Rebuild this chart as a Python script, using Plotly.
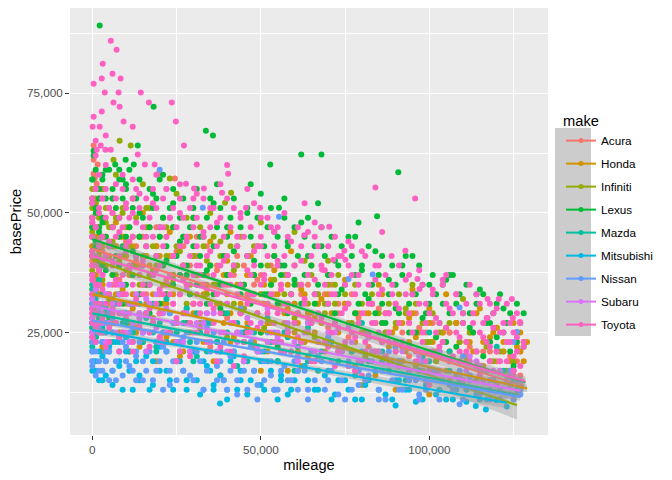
import numpy as np
import plotly.graph_objects as go

makes = ["Acura", "Honda", "Infiniti", "Lexus", "Mazda", "Mitsubishi", "Nissan", "Subaru", "Toyota"]
colors = ["#F8766D", "#D39200", "#93AA00", "#00BA38", "#00C19F", "#00B9E3", "#619CFF", "#DB72FB", "#FF61C3"]

# ---- scattered points (mileage and basePrice, in thousands) ----
acura_mileage_k = [0.4, 0.4, 1.6, 0.4, 0.7, 24.5, 19.7, 1.3,
                   0, 0, 0, 1, 1, 2, 2, 3, 4, 6, 8, 10,
                   13, 16, 19, 22, 25, 28, 31, 34, 37, 40, 43, 46, 49, 52, 55, 58, 20, 35, 50,
                   61, 64, 67, 70, 73, 76, 79, 82, 85, 88, 91, 94, 97, 100, 103, 106, 109, 112, 115, 118, 121, 124, 127]
acura_price_k = [64.1, 61.1, 60.1, 58.2, 57.2, 57.2, 58.2, 56.1,
                 28, 40, 48, 34, 52, 38, 45, 42, 31, 50, 36, 44,
                 40, 33, 47, 36, 42, 30, 45, 34, 38, 28, 41, 32, 36, 27, 39, 31, 24, 22, 21,
                 35, 29, 33, 26, 31, 24, 28, 22, 30, 25, 27, 20, 26, 23, 21, 25, 19, 22, 18, 21, 17, 20, 16]

honda_mileage_k = [0, 0, 0, 0, 0, 0, 0, 0, 1, 1, 1, 1, 1, 1, 2, 2, 2, 2, 3, 3, 3,
                   4, 6, 8, 10, 12, 14, 16, 18, 20, 22, 24, 26, 28, 30, 5, 9, 13, 17, 21, 25, 29, 7, 15, 23,
                   32, 34, 36, 38, 40, 42, 44, 46, 48, 50, 52, 54, 56, 58, 60, 62, 64, 66, 68, 70, 35, 41, 47, 53, 59, 65, 38, 50, 62,
                   72, 74, 76, 78, 80, 82, 84, 86, 88, 90, 92, 94, 96, 98, 100, 102, 104, 106, 108, 110, 112, 114, 116, 118, 120,
                   122, 124, 126, 128, 75, 85, 95, 105, 115, 125, 80, 90, 100, 110, 120, 127, 129]
honda_price_k = [23, 25, 28, 31, 34, 37, 43, 49, 24, 27, 30, 36, 40, 47, 26, 29, 33, 39, 22, 35, 45,
                 27, 32, 25, 38, 30, 22, 35, 28, 41, 24, 33, 20, 37, 29, 43, 34, 26, 39, 31, 23, 45, 48, 50, 46,
                 26, 35, 19, 31, 40, 24, 29, 37, 22, 33, 27, 38, 21, 30, 25, 34, 20, 28, 32, 23, 44, 46, 41, 36, 42, 39, 16, 17, 18,
                 27, 21, 31, 18, 25, 29, 16, 33, 22, 26, 19, 28, 24, 17, 30, 21, 25, 15, 27, 20, 23, 29, 18, 24, 26,
                 21, 16, 22, 19, 36, 35, 34, 33, 30, 27, 14, 13, 12, 14, 26, 25, 23]

infiniti_mileage_k = [8.1, 11.4, 6.3, 23, 41.2, 39.4,
                      0, 0, 0, 1, 1, 2, 2, 3, 3, 4, 5, 6, 7, 8, 9, 10,
                      12, 14, 16, 18, 20, 22, 24, 26, 28, 30, 32, 34, 36, 38, 40, 15, 25, 35,
                      42, 45, 48, 51, 54, 57, 60, 63, 66, 69, 72, 75, 78, 81, 84, 50, 60, 70,
                      87, 90, 93, 96, 99, 102, 105, 108, 111, 114, 117, 120, 123, 126, 95, 110]
infiniti_price_k = [65.1, 64.1, 61.1, 57.2, 54.2, 52.1,
                    30, 38, 46, 34, 52, 28, 42, 36, 55, 48, 32, 44, 58, 40, 50, 27,
                    45, 33, 51, 38, 29, 47, 36, 42, 31, 49, 27, 40, 35, 44, 24, 56, 54, 50,
                    38, 30, 43, 26, 36, 33, 28, 40, 24, 31, 35, 22, 29, 20, 27, 48, 46, 40,
                    25, 21, 30, 18, 23, 19, 26, 16, 20, 15, 22, 14, 17, 12, 35, 32]

lexus_mileage_k = [2.2, 18.2, 33.7, 35.8, 62, 68, 52.8, 13.5, 0.4, 0.4, 9.9, 6.8, 12.3, 8, 4, 55.4, 84.5, 90.8,
                   0, 0, 0, 0, 0, 0, 0, 1, 1, 1, 1, 1, 2, 2, 2, 2, 3, 3, 3,
                   4, 6, 8, 10, 12, 14, 16, 18, 20, 22, 24, 26, 28, 30, 5, 11, 17, 23, 29, 9, 21,
                   32, 34, 36, 38, 40, 42, 44, 46, 48, 50, 52, 54, 56, 58, 60, 62, 64, 66, 68, 70, 37, 47, 57, 67, 45, 55, 65,
                   72, 74, 76, 78, 80, 82, 84, 86, 88, 90, 92, 94, 96, 98, 100, 102, 104, 106, 108, 110, 112, 114, 116, 118,
                   120, 122, 124, 126, 128, 79, 95, 105, 115, 125]
lexus_price_k = [89.2, 72.2, 67.2, 66.2, 62.2, 62.2, 60.1, 64.1, 63, 62, 61.1, 60.1, 60.1, 59, 59, 51.1, 49.3, 58.5,
                 26, 32, 37, 42, 47, 52, 57, 24, 35, 44, 50, 55, 29, 40, 46, 53, 33, 48, 58,
                 38, 53, 45, 56, 42, 50, 35, 54, 47, 40, 52, 44, 37, 49, 28, 31, 29, 25, 33, 57, 58,
                 45, 38, 52, 30, 47, 42, 35, 50, 40, 54, 33, 46, 39, 44, 36, 48, 41, 31, 43, 37, 56, 56, 53, 52, 25, 22, 27,
                 40, 34, 45, 29, 38, 32, 42, 27, 36, 30, 39, 25, 33, 28, 35, 24, 31, 37, 22, 29, 26, 33, 20, 27,
                 24, 30, 21, 25, 22, 48, 41, 36, 34, 18]

mazda_mileage_k = [0, 0, 0, 0, 1, 1, 2, 2, 3, 4, 6, 8, 10, 12, 14,
                   16, 19, 22, 25, 28, 31, 34, 37, 40, 43, 46, 49, 52, 55, 58, 61, 64, 67, 70,
                   74, 78, 82, 86, 90, 94, 98, 102, 106, 110, 114, 118, 122, 126, 80, 100, 120]
mazda_price_k = [22, 26, 30, 34, 24, 32, 28, 36, 26, 30, 23, 33, 27, 25, 31,
                 28, 22, 32, 25, 30, 20, 27, 23, 29, 18, 26, 21, 28, 19, 24, 22, 26, 17, 23,
                 21, 16, 24, 19, 22, 15, 20, 17, 21, 14, 18, 15, 17, 13, 27, 25, 22]

mitsubishi_mileage_k = [0, 0, 0, 1, 1, 2, 2, 3, 4, 5, 6, 8, 10, 12,
                        14, 16, 18, 20, 22, 24, 26, 28, 30, 32, 34, 36, 37.9, 38, 40, 42, 44, 46, 48, 50, 52, 54, 56, 58, 60,
                        63, 66, 69, 72, 75, 78, 81, 84, 87, 90, 93, 96, 99, 102, 105, 108, 111, 114, 117, 120, 123,
                        116.8, 113.8, 90]
mitsubishi_price_k = [17, 21, 25, 19, 23, 15, 27, 20, 16, 22, 14, 18, 24, 13,
                      16, 20, 14, 22, 17, 13, 19, 15, 21, 12, 18, 14, 10.15, 16, 13, 20, 15, 12, 17, 14, 19, 13, 16, 12, 15,
                      18, 13, 16, 12, 15, 11, 14, 17, 12, 15, 13, 10.5, 14, 12, 11, 13, 10.5, 12, 11, 10.8, 9.5,
                      8.9, 9.6, 9.7]

nissan_mileage_k = [0, 0, 0, 0, 0, 1, 1, 1, 2, 2, 3, 3, 4, 5, 6, 7, 8, 9, 10, 11, 12,
                    13, 15, 17, 19, 21, 23, 25, 27, 29, 31, 33, 35, 37, 39, 41, 43, 45, 47, 49, 51, 53, 55, 57, 59,
                    14, 24, 34, 44, 54,
                    61, 64, 67, 70, 73, 76, 79, 82, 85, 88, 91, 94, 97, 100, 103, 106, 109, 112, 115, 118, 121, 124, 127,
                    70, 90, 110, 125, 20, 55.4, 32.8, 83.2, 76, 109, 126]
nissan_price_k = [18, 21, 24, 27, 30, 16, 23, 29, 19, 26, 17, 25, 21, 15, 28, 19, 24, 16, 22, 18, 26,
                  20, 15, 25, 17, 22, 14, 19, 24, 16, 21, 13, 23, 18, 15, 20, 12, 17, 22, 14, 19, 16, 13, 18, 15,
                  28, 27, 26, 30, 25,
                  17, 13, 20, 15, 12, 18, 14, 16, 11, 19, 13, 15, 12, 17, 11, 14, 10, 16, 12, 13, 11, 14, 12,
                  24, 22, 20, 23, 59, 49.2, 51.1, 37.1, 36.2, 30.2, 25.1]

subaru_mileage_k = [0, 0, 0, 0, 1, 1, 2, 2, 3, 4, 6, 8, 10, 12, 14,
                    16, 19, 22, 25, 28, 31, 34, 37, 40, 43, 46, 49, 52, 55, 58, 61, 64, 67, 70,
                    73, 76, 79, 82, 85, 88, 91, 94, 97, 100, 103, 106, 109, 112, 115, 118, 121, 124, 127]
subaru_price_k = [24, 28, 32, 36, 26, 34, 30, 38, 27, 33, 29, 35, 25, 31, 28,
                  32, 26, 30, 23, 34, 27, 29, 21, 31, 25, 28, 22, 30, 24, 26, 20, 27, 23, 25,
                  22, 26, 19, 24, 21, 23, 18, 22, 20, 17, 21, 19, 16, 20, 18, 15, 17, 16, 14]

toyota_mileage_k = [0, 0, 0, 0, 0, 0, 0, 0, 0, 0, 1, 1, 1, 1, 1, 1, 1, 1, 2, 2, 2, 2, 2, 2, 3, 3, 3, 3,
                    5.5, 7.2, 3.1, 6.0, 2.8, 8.4, 0.4, 3.7, 7.8, 14.4, 6.3, 8.1, 16.8, 23.6, 2.8, 0.4, 9.3, 0.1, 2.2,
                    12.0, 24.8, 4.0, 1.0, 27.2, 2.5, 1.3, 3.9, 5.5, 13.5, 31.0, 15.6, 18.5, 40.3, 27.8, 30.2, 33.1,
                    45.6, 49.8, 38.5,
                    4, 5, 5, 6, 6, 7, 7, 8, 8, 9, 9, 10, 10, 11, 11, 12, 12, 13, 13, 14, 14, 15, 15, 4, 6, 8, 10, 12, 14,
                    16, 17, 18, 19, 20, 21, 22, 23, 24, 25, 26, 27, 28, 29, 30, 31, 32, 33, 34, 35, 17, 20, 23, 26, 29,
                    32, 35, 19, 25, 31,
                    36, 37, 38, 39, 40, 41, 42, 43, 44, 45, 46, 47, 48, 49, 50, 51, 52, 53, 54, 55, 56, 57, 58, 59, 60,
                    38, 42, 46, 50, 54, 58, 40, 48, 56,
                    61, 62, 63, 64, 65, 66, 67, 68, 69, 70, 71, 72, 73, 74, 75, 76, 77, 78, 79, 80, 81, 82, 83, 84, 85,
                    86, 87, 88, 89, 90, 63, 66, 70.3, 62.9, 86, 74.8, 71.5, 75.1, 68.2, 88.8, 92.9, 84, 95.8,
                    64, 72, 80, 68, 76, 84,
                    91, 92, 93, 94, 95, 96, 97, 98, 99, 100, 101, 102, 103, 104, 105, 106, 107, 108, 109, 110, 111,
                    112, 113, 114, 115, 116, 117, 118, 119, 120, 121, 122, 123, 124, 125, 126, 127, 128,
                    96.5, 97.1, 117.3, 120.6, 124.5, 124.8, 126.9, 117.3, 100, 105, 110, 115, 120, 125]
toyota_price_k = [24, 27, 30, 33, 36, 39, 42, 45, 48, 52, 23, 26, 29, 35, 41, 47, 55, 62, 25, 31, 38, 44, 50, 58, 28, 34, 40, 53,
                  86, 84.1, 81.2, 79.1, 78.1, 78.1, 77.0, 75.2, 75.2, 75.2, 73.1, 72.2, 73.1, 73.1, 71.2, 70.1, 69.1, 68.0, 68.0,
                  68.0, 69.1, 66.2, 65.1, 64.1, 64.1, 63.2, 63.2, 63.2, 62.2, 60.1, 60.1, 60.1, 58.2, 56.1, 55.1, 55.1,
                  51.1, 51.1, 54.2,
                  22, 26, 44, 30, 50, 36, 56, 24, 46, 33, 58, 28, 52, 38, 44, 21, 57, 32, 48, 26, 54, 40, 35, 60, 40, 29, 42, 50, 37,
                  45, 30, 52, 38, 24, 47, 55, 33, 41, 28, 50, 36, 44, 20, 53, 39, 31, 46, 25, 42, 22, 34, 49, 56, 27,
                  37, 51, 58, 19, 54,
                  30, 48, 22, 40, 53, 35, 27, 45, 50, 20, 38, 33, 52, 26, 43, 36, 29, 47, 23, 40, 34, 50, 31, 44, 27,
                  56, 18, 55, 49, 46, 37, 60, 42, 21,
                  24, 40, 32, 46, 19, 36, 43, 28, 38, 22, 33, 45, 26, 41, 30, 18, 37, 24, 35, 42, 21, 31, 27, 39, 25,
                  34, 20, 29, 33, 23, 52, 48, 47.1, 45.3, 46, 42.1, 40.2, 40.2, 38.1, 41, 42.1, 55.3, 53,
                  28, 18, 16, 47, 44, 36,
                  30, 22, 36, 27, 33, 19, 38, 25, 31, 17, 34, 28, 22, 36, 26, 30, 20, 33, 24, 29, 21,
                  35, 27, 18, 31, 24, 28, 22, 26, 30, 19, 25, 23, 27, 20, 24, 18, 22,
                  36.2, 34.1, 32, 32, 32, 28, 27.2, 28, 14, 37, 15, 16, 14, 16]

# ---- dense core: price rows (thousands) and the mileages (thousands) seen on each row ----
acura_row_price_k = [53, 51, 49, 47, 45, 43, 41, 39, 37, 35, 33, 31, 29, 27, 25, 23, 21, 19]
acura_row_mileage_k = [
    [0, 2], [1, 5], [0, 3, 8], [2, 6, 11, 17], [0, 4, 9, 15, 22], [1, 7, 13, 19, 27, 34],
    [0, 5, 10, 16, 24, 31, 39], [3, 8, 14, 21, 29, 37, 45, 53], [1, 12, 18, 26, 34, 42, 50, 58],
    [6, 23, 32, 40, 48, 56, 64, 71], [20, 36, 46, 54, 62, 69, 77], [30, 51, 60, 67, 75, 83, 90],
    [44, 65, 73, 81, 88, 96], [57, 79, 86, 94, 101, 108], [92, 99, 106, 113], [104, 111, 118],
    [116, 122, 127], [120, 126]]

honda_row_price_k = [47, 45, 43, 41, 39, 37, 35, 33, 31, 29, 27, 25, 23, 21, 19, 17]
honda_row_mileage_k = [
    [0, 2, 6], [1, 4, 9, 14], [0, 3, 7, 12, 19], [2, 5, 10, 16, 23, 30], [0, 4, 8, 13, 20, 27, 35],
    [1, 6, 11, 17, 24, 31, 39, 46], [0, 3, 9, 15, 21, 28, 36, 43, 51, 58],
    [2, 7, 12, 18, 26, 33, 40, 48, 55, 63, 70], [0, 5, 10, 16, 22, 30, 37, 44, 52, 60, 67, 75, 83],
    [1, 4, 9, 14, 20, 27, 34, 41, 49, 57, 64, 71, 79, 87, 95],
    [0, 6, 11, 18, 25, 32, 39, 46, 53, 61, 68, 76, 84, 92, 100, 108],
    [2, 8, 13, 21, 29, 36, 43, 50, 58, 66, 73, 81, 89, 97, 104, 112, 119, 126],
    [0, 5, 15, 24, 33, 41, 48, 56, 63, 70, 78, 86, 94, 101, 109, 116, 122, 128],
    [3, 11, 27, 38, 52, 61, 69, 77, 85, 93, 99, 106, 113, 120, 127],
    [19, 45, 66, 82, 91, 102, 111, 118, 124], [58, 88, 105, 117, 125]]

infiniti_row_price_k = [55, 53, 51, 49, 47, 45, 43, 41, 39, 37, 35, 33, 31, 29, 27, 25, 23, 21, 19]
infiniti_row_mileage_k = [
    [0, 3], [1, 6, 12], [0, 4, 9, 17], [2, 7, 13, 21, 28], [0, 5, 10, 16, 24, 32],
    [3, 8, 14, 20, 27, 36, 44], [1, 6, 11, 18, 25, 33, 41, 49], [0, 4, 9, 15, 22, 30, 38, 46, 54],
    [2, 12, 19, 27, 35, 43, 52, 60], [7, 17, 24, 31, 40, 48, 57, 65, 73], [14, 29, 37, 45, 53, 62, 70, 78],
    [22, 34, 50, 59, 67, 75, 83, 91], [42, 56, 64, 72, 80, 88, 96], [61, 69, 85, 93, 101],
    [77, 90, 98, 106], [87, 103, 112], [100, 109, 117], [114, 121], [119, 125]]

lexus_row_price_k = [59, 57, 55, 53, 51, 49, 47, 45, 43, 41, 39, 37, 35, 33, 31, 29, 27, 25, 23]
lexus_row_mileage_k = [
    [1, 5, 11], [0, 3, 8, 14, 20], [2, 6, 10, 17, 24, 31], [0, 4, 9, 13, 19, 27, 35, 42],
    [1, 7, 12, 18, 23, 30, 38, 46, 53], [0, 3, 8, 15, 21, 26, 34, 41, 49, 57, 64],
    [2, 6, 11, 17, 24, 29, 37, 44, 52, 60, 68], [0, 4, 10, 14, 20, 27, 33, 40, 47, 55, 63, 71, 78],
    [1, 5, 9, 16, 22, 30, 36, 43, 51, 58, 66, 74, 82], [0, 7, 13, 19, 25, 32, 39, 46, 54, 61, 69, 77, 86, 93],
    [3, 8, 15, 21, 28, 35, 42, 50, 57, 65, 73, 80, 89, 97],
    [0, 6, 12, 18, 26, 33, 40, 48, 56, 63, 70, 78, 85, 92, 101, 107],
    [2, 10, 17, 24, 31, 38, 45, 53, 60, 67, 75, 83, 90, 98, 104, 111],
    [5, 14, 22, 29, 36, 44, 51, 59, 66, 73, 81, 88, 95, 102, 109, 116, 121],
    [1, 9, 20, 34, 47, 55, 62, 70, 79, 86, 94, 100, 108, 114, 120, 126],
    [4, 16, 39, 58, 72, 84, 91, 99, 106, 112, 119, 124, 128],
    [28, 64, 87, 103, 110, 117, 123, 127], [50, 96, 113, 122], [105, 118, 126]]

mazda_row_price_k = [35, 33, 31, 29, 27, 25, 23, 21, 19, 17, 15]
mazda_row_mileage_k = [
    [0, 2], [1, 4, 8], [0, 3, 7, 12, 18], [2, 5, 10, 16, 23, 31], [0, 4, 9, 14, 20, 27, 35, 43],
    [1, 6, 12, 18, 25, 32, 40, 48, 57], [3, 8, 15, 22, 29, 37, 45, 53, 62, 71],
    [11, 19, 26, 34, 42, 51, 59, 68, 77, 86], [30, 46, 55, 64, 73, 82, 91, 100],
    [60, 79, 88, 97, 106, 115], [93, 109, 119, 125]]

mitsubishi_row_price_k = [27, 25, 23, 21, 19, 17, 15, 13, 11]
mitsubishi_row_mileage_k = [
    [0, 2], [1, 4, 9, 15], [0, 3, 7, 12, 19, 26], [2, 5, 10, 16, 22, 30, 38],
    [0, 4, 8, 13, 18, 25, 33, 41, 50], [1, 6, 11, 20, 27, 35, 44, 53, 61, 70],
    [3, 14, 23, 31, 39, 47, 56, 64, 73, 82, 91], [9, 17, 28, 36, 43, 51, 59, 67, 76, 85, 94, 103, 111],
    [40, 55, 71, 80, 89, 98, 107, 115, 121]]

nissan_row_price_k = [31, 29, 27, 25, 23, 21, 19, 17, 15, 13, 11]
nissan_row_mileage_k = [
    [0, 3, 8], [1, 5, 10, 16, 23], [0, 4, 7, 12, 18, 25, 33], [2, 6, 11, 15, 21, 28, 36, 44, 52],
    [0, 3, 9, 14, 19, 26, 31, 39, 47, 55, 62, 70],
    [1, 5, 8, 13, 17, 22, 29, 35, 42, 50, 57, 65, 73, 80, 88],
    [0, 4, 10, 15, 20, 24, 32, 38, 45, 53, 60, 68, 76, 83, 91, 98, 106],
    [2, 6, 12, 16, 23, 27, 34, 41, 48, 56, 63, 71, 79, 86, 94, 101, 109, 117, 124],
    [7, 13, 18, 25, 30, 37, 43, 51, 58, 66, 74, 81, 89, 96, 104, 112, 119, 126],
    [21, 33, 40, 46, 54, 61, 69, 77, 85, 92, 99, 107, 114, 121, 127],
    [49, 64, 75, 87, 97, 110, 118, 125]]

subaru_row_price_k = [37, 35, 33, 31, 29, 27, 25, 23, 21, 19, 17, 15]
subaru_row_mileage_k = [
    [0, 3], [1, 5, 9], [0, 4, 8, 13, 19], [2, 6, 11, 17, 24, 32], [0, 3, 9, 14, 21, 28, 36, 44],
    [1, 5, 12, 18, 25, 33, 41, 50, 58], [0, 7, 15, 22, 30, 38, 47, 55, 63, 72],
    [4, 11, 20, 27, 35, 43, 52, 60, 69, 77, 86], [16, 29, 40, 49, 57, 66, 74, 83, 92, 100],
    [45, 61, 71, 80, 89, 97, 106, 114], [78, 94, 103, 111, 119, 125], [99, 116, 123]]

toyota_row_price_k = [55, 53, 51, 49, 47, 45, 43, 41, 39, 37, 35, 33, 31, 29, 27, 25, 23, 21, 19, 17]
toyota_row_mileage_k = [
    [1, 4, 9, 13, 18, 22], [0, 3, 7, 12, 16, 21, 26, 33], [2, 5, 10, 14, 19, 24, 29, 36, 42],
    [0, 4, 8, 11, 17, 23, 27, 31, 38, 44, 52], [1, 6, 9, 15, 20, 25, 30, 35, 41, 47, 55, 61],
    [0, 3, 7, 12, 18, 22, 28, 33, 39, 45, 50, 58, 66], [2, 5, 10, 16, 21, 26, 31, 37, 43, 49, 54, 62, 70, 77],
    [0, 4, 8, 13, 19, 24, 29, 34, 40, 46, 52, 57, 65, 73, 81],
    [1, 6, 11, 15, 20, 27, 32, 38, 42, 48, 55, 60, 68, 76, 85, 91],
    [0, 3, 9, 14, 18, 23, 30, 36, 41, 47, 51, 58, 64, 71, 79, 87, 94],
    [2, 7, 12, 17, 22, 28, 33, 39, 44, 50, 56, 62, 69, 75, 82, 89, 98, 104],
    [0, 5, 10, 15, 21, 26, 31, 37, 43, 48, 53, 59, 66, 72, 78, 85, 93, 101, 108, 114],
    [1, 4, 8, 13, 19, 24, 30, 35, 40, 46, 52, 57, 63, 70, 76, 83, 90, 97, 105, 111, 118, 123],
    [0, 6, 11, 16, 20, 27, 32, 38, 44, 49, 55, 61, 67, 74, 80, 87, 94, 100, 107, 113, 119, 126],
    [2, 7, 14, 18, 25, 29, 36, 42, 47, 54, 60, 65, 72, 79, 84, 91, 99, 103, 110, 116, 122, 127],
    [3, 9, 17, 23, 31, 39, 46, 53, 58, 64, 71, 77, 82, 88, 95, 102, 108, 115, 121, 125],
    [5, 12, 21, 34, 45, 56, 62, 69, 75, 81, 86, 92, 98, 104, 111, 117, 124, 128],
    [8, 26, 41, 59, 73, 84, 90, 96, 101, 109, 114, 120, 126],
    [37, 66, 88, 99, 106, 112, 118, 123], [78, 103, 115, 125]]

mileage_k = [acura_mileage_k, honda_mileage_k, infiniti_mileage_k, lexus_mileage_k, mazda_mileage_k,
             mitsubishi_mileage_k, nissan_mileage_k, subaru_mileage_k, toyota_mileage_k]
price_k = [acura_price_k, honda_price_k, infiniti_price_k, lexus_price_k, mazda_price_k,
           mitsubishi_price_k, nissan_price_k, subaru_price_k, toyota_price_k]
row_price_k = [acura_row_price_k, honda_row_price_k, infiniti_row_price_k, lexus_row_price_k, mazda_row_price_k,
               mitsubishi_row_price_k, nissan_row_price_k, subaru_row_price_k, toyota_row_price_k]
row_mileage_k = [acura_row_mileage_k, honda_row_mileage_k, infiniti_row_mileage_k, lexus_row_mileage_k,
                 mazda_row_mileage_k, mitsubishi_row_mileage_k, nissan_row_mileage_k, subaru_row_mileage_k,
                 toyota_row_mileage_k]

# ---- linear-fit lines and their confidence bands ----
fit_start_mileage = [0, 0, 0, 0, 0, 0, 0, 0, 0]
fit_start_price = [42500, 33000, 40300, 44500, 29000, 25500, 27500, 30500, 41000]
fit_end_mileage = [128000, 129000, 126000, 128500, 126000, 123000, 127000, 127000, 128500]
fit_end_price = [13800, 13300, 9800, 14600, 12000, 10300, 11500, 12800, 14800]
band_mid_mileage = [45000, 45000, 40000, 45000, 45000, 40000, 45000, 45000, 45000]
band_half_start = [1500, 700, 1500, 1000, 800, 800, 600, 800, 500]
band_half_mid = [600, 300, 600, 400, 400, 400, 300, 400, 250]
band_half_end = [1500, 800, 3000, 1200, 1200, 1200, 800, 1000, 600]

fig = go.Figure()

# points (one layer, all makes)
for i, mk in enumerate(makes):
    xs = list(mileage_k[i])
    ys = list(price_k[i])
    for p, row in zip(row_price_k[i], row_mileage_k[i]):
        xs += row
        ys += [p] * len(row)
    fig.add_trace(go.Scatter(
        x=np.array(xs) * 1000, y=np.array(ys) * 1000,
        mode="markers", marker=dict(color=colors[i], size=6, line=dict(width=0)),
        name=mk, legendgroup=mk, showlegend=False, hoverinfo="skip"))

# smooth layer: band then line for each make
for i, mk in enumerate(makes):
    x0, x1 = fit_start_mileage[i], fit_end_mileage[i]
    y0, y1 = fit_start_price[i], fit_end_price[i]
    xm = band_mid_mileage[i]
    ym = y0 + (y1 - y0) * (xm - x0) / (x1 - x0)
    bx = [x0, xm, x1, x1, xm, x0]
    by = [y0 + band_half_start[i], ym + band_half_mid[i], y1 + band_half_end[i],
          y1 - band_half_end[i], ym - band_half_mid[i], y0 - band_half_start[i]]
    fig.add_trace(go.Scatter(x=bx, y=by, mode="lines", fill="toself",
                             fillcolor="rgba(153,153,153,0.4)", line=dict(width=0),
                             legendgroup=mk, showlegend=False, hoverinfo="skip"))
    fig.add_trace(go.Scatter(x=[x0, x1], y=[y0, y1], mode="lines",
                             line=dict(color=colors[i], width=2.2),
                             legendgroup=mk, showlegend=False, hoverinfo="skip"))

# legend entries
for i, mk in enumerate(makes):
    fig.add_trace(go.Scatter(x=[None], y=[None], mode="lines+markers", name=mk,
                             legendgroup=mk, showlegend=True,
                             line=dict(color=colors[i], width=2),
                             marker=dict(color=colors[i], size=5)))

axis_font = dict(family="Liberation Sans, Arial, sans-serif", size=11.7, color="#4D4D4D")
title_font = dict(family="Liberation Sans, Arial, sans-serif", size=14.7, color="#000000")

# the page adds an 8px margin around the figure, so the figure is 8px smaller
W, H = 664, 472
fig.update_layout(
    width=W, height=H,
    margin=dict(l=62, r=124, t=0, b=45, autoexpand=False),
    paper_bgcolor="#FFFFFF", plot_bgcolor="#EBEBEB",
    font=dict(family="Liberation Sans, Arial, sans-serif"),
    showlegend=True,
    legend=dict(
        title=dict(text="make", font=title_font),
        font=dict(family="Liberation Sans, Arial, sans-serif", size=11.7, color="#000000"),
        xref="container", yref="container", x=553 / W, y=1 - 99 / H,
        xanchor="left", yanchor="top", tracegroupgap=4, bgcolor="rgba(0,0,0,0)",
    ),
    shapes=[dict(type="rect", xref="paper", yref="paper",
                 x0=(555 - 70) / 478, x1=(591 - 70) / 478,
                 y0=(435 - 336) / 427, y1=(435 - 128) / 427,
                 fillcolor="#CCCCCC", line=dict(width=0), layer="below")],
)

fig.update_xaxes(
    range=[-6617, 135223], tick0=0, dtick=50000, tickformat=",d", automargin=False,
    showgrid=True, gridcolor="#FFFFFF", gridwidth=1.1, zeroline=False,
    minor=dict(dtick=25000, tick0=0, showgrid=True, gridcolor="#FFFFFF", gridwidth=0.55),
    ticks="outside", ticklen=4, tickwidth=1.1, tickcolor="#333333",
    tickfont=axis_font, showline=False,
    title=dict(text="mileage", font=title_font, standoff=4),
)
fig.update_yaxes(
    range=[3557, 92845], tick0=0, dtick=25000, tickformat=",d", automargin=False,
    showgrid=True, gridcolor="#FFFFFF", gridwidth=1.1, zeroline=False,
    minor=dict(dtick=12500, tick0=0, showgrid=True, gridcolor="#FFFFFF", gridwidth=0.55),
    ticks="outside", ticklen=4, tickwidth=1.1, tickcolor="#333333",
    tickfont=axis_font, showline=False,
    title=dict(text="basePrice", font=title_font, standoff=4),
)

fig.write_html("out.html")
